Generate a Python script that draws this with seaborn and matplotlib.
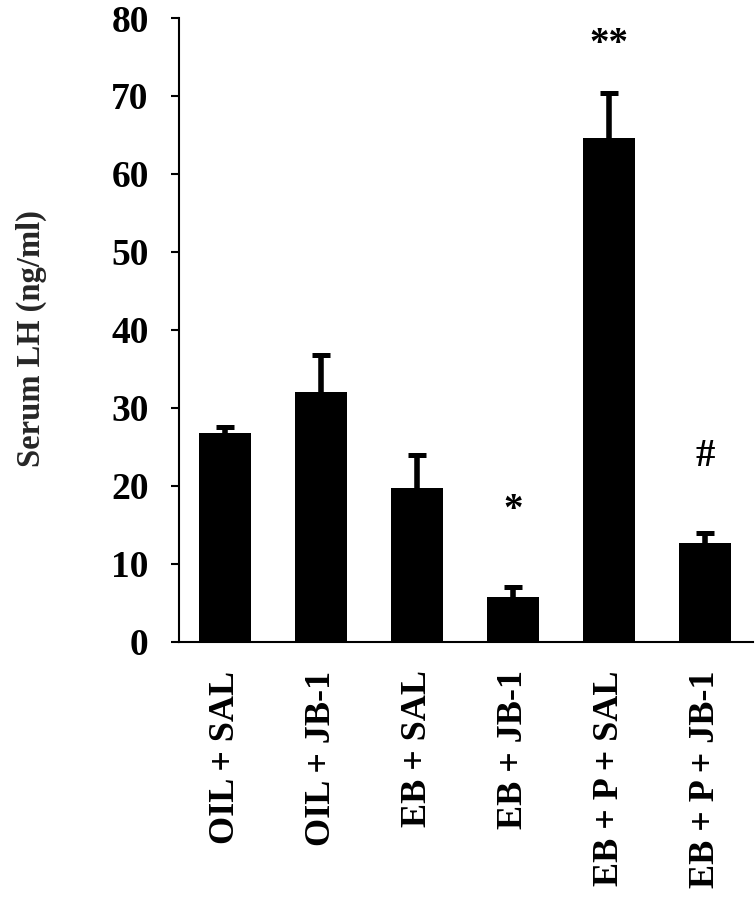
import numpy as np
import pandas as pd
import matplotlib
matplotlib.use("Agg")
import matplotlib.pyplot as plt
import seaborn as sns

# values
groups = ["OIL + SAL", "OIL + JB-1", "EB + SAL", "EB + JB-1", "EB + P + SAL", "EB + P + JB-1"]
lh_mean = [26.8, 32.0, 19.8, 5.8, 64.6, 12.7]
lh_sem = [0.7, 4.8, 4.2, 1.3, 5.8, 1.3]
marks = ["", "", "", "*", "**", "#"]
mark_y = [0, 0, 0, 15.6, 75.4, 22.6]

sns.set_theme(style="ticks")
plt.rcParams["font.family"] = ["Liberation Serif", "DejaVu Serif"]
plt.rcParams["font.weight"] = "bold"

df = pd.DataFrame({"group": groups, "lh": lh_mean})

fig = plt.figure(figsize=(7.56, 9), dpi=100)
ax = fig.add_axes([0.2368, 0.2867, 0.7593, 0.6933])

sns.barplot(data=df, x="group", y="lh", color="black", width=0.55,
            errorbar=None, edgecolor="black", linewidth=0, saturation=1, ax=ax)

# upper error bars only
x = np.arange(len(groups))
_, caps, _ = ax.errorbar(x, lh_mean, yerr=[np.zeros(len(groups)), lh_sem], fmt="none",
                         ecolor="black", elinewidth=4, capsize=6.8, capthick=3.6, zorder=1)
caps[0].set_visible(False)

for xi, m, my in zip(x, marks, mark_y):
    if m:
        ax.text(xi, my, m, ha="center", va="baseline", fontsize=28,
                fontweight="bold", color="black")

ax.set_ylim(0, 80)
ax.set_xlim(-0.48, 5.5)
ax.set_yticks(range(0, 81, 10))
ax.set_xlabel("")
ax.set_ylabel("Serum LH (ng/ml)", fontsize=23.5, fontweight="bold")
ax.yaxis.set_label_coords(-0.23, 0.486)
ax.tick_params(axis="y", length=5.8, width=1.5, pad=16, labelsize=27, colors="black")
ax.tick_params(axis="x", length=0, pad=20.5, labelsize=26, colors="black")
plt.setp(ax.get_xticklabels(), rotation=90, fontweight="bold")
plt.setp(ax.get_yticklabels(), fontweight="bold")
sns.despine(ax=ax)
for s in ["left", "bottom"]:
    ax.spines[s].set_linewidth(1.5)
    ax.spines[s].set_color("black")

fig.savefig("out.png", dpi=100, facecolor="white")
